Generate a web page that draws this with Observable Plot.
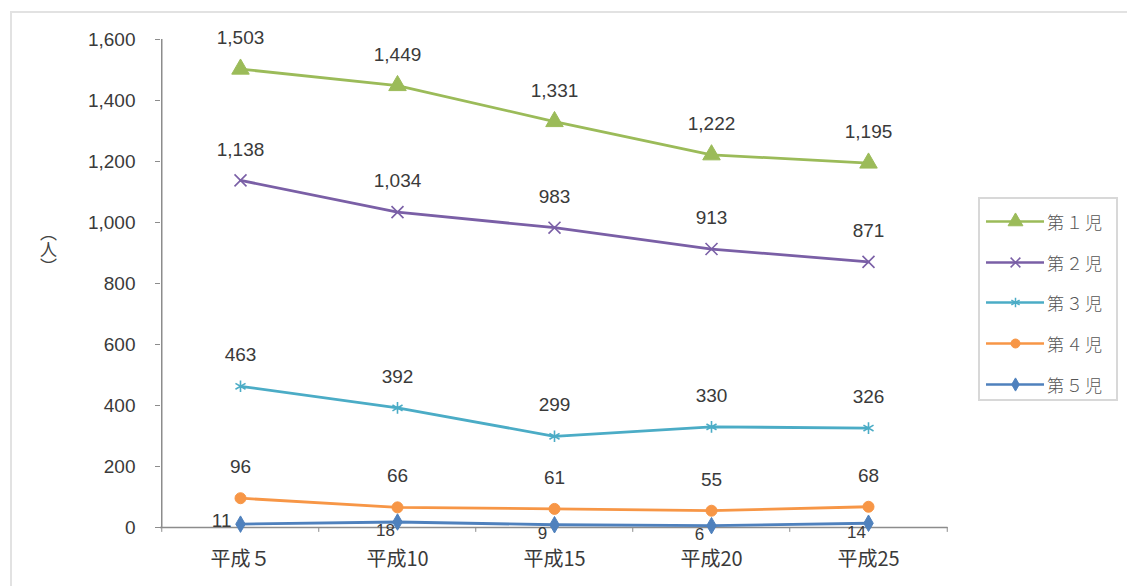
<!DOCTYPE html>
<html>
<head>
<meta charset="utf-8">
<script src="https://cdn.jsdelivr.net/npm/d3@7"></script>
<script src="https://cdn.jsdelivr.net/npm/@observablehq/plot@0.6"></script>
<style>
  html, body { margin: 0; padding: 0; background: #fff; }
  #wrap { position: relative; width: 1127px; height: 586px; overflow: hidden; font-family: "Liberation Sans", Arial, sans-serif; }
  #frame { position: absolute; left: 10px; top: 11px; width: 1140px; height: 600px; border-left: 2px solid #e2e2e2; border-top: 2px solid #e2e2e2; box-sizing: border-box; }
  #ylabel { position: absolute; left: 36px; top: 224px; writing-mode: vertical-rl; font-family: "Noto Sans CJK JP", sans-serif; font-size: 17px; color: #444; }
  #legend { position: absolute; left: 978px; top: 197px; width: 140px; height: 204px; border: 2px solid #d8d8d8; box-sizing: border-box; background: #fff; }
  .row { position: absolute; left: 6px; height: 22px; display: flex; align-items: center; }
  .row span { font-family: "Noto Sans CJK JP", serif; font-weight: 300; font-size: 17px; letter-spacing: 2px; color: #555; margin-left: 3px; }
  #chart { position: absolute; left: 0; top: 0; }
</style>
</head>
<body>
<div id="wrap">
  <div id="frame"></div>
  <div id="chart"></div>
  <div id="ylabel">（人）</div>
  <div id="legend"></div>
</div>
<script>
const categories = ["平成５", "平成10", "平成15", "平成20", "平成25"];
const seriesNames = ["第１児", "第２児", "第３児", "第４児", "第５児"];
const child1 = [1503, 1449, 1331, 1222, 1195];
const child2 = [1138, 1034, 983, 913, 871];
const child3 = [463, 392, 299, 330, 326];
const child4 = [96, 66, 61, 55, 68];
const child5 = [11, 18, 9, 6, 14];
const yTicks = [0, 200, 400, 600, 800, 1000, 1200, 1400, 1600];

const colors = ["#9BBB59", "#7A5FA6", "#4BACC6", "#F79646", "#4F81BD"];
const symbols = ["triangle", "times", "asterisk", "circle", "diamond"];
const filled = [true, false, false, true, true];
const radius = [6.5, 5.5, 5.5, 5.5, 5];

const allSeries = [child1, child2, child3, child4, child5];
const rows = [];
allSeries.forEach((vals, s) => vals.forEach((v, i) => rows.push({series: seriesNames[s], s, cat: categories[i], i, value: v})));

const fmt = d3.format(",");
const labelFont = 19;
const marks = [];

// axes lines
marks.push(Plot.ruleY([0], {stroke: "#8c8c8c", strokeWidth: 1.5}));
marks.push(Plot.ruleX([0], {x: () => categories[0], y1: 0, y2: 1600, dx: -78.75, stroke: "#8c8c8c", strokeWidth: 1.5}));
// category boundary ticks
marks.push(Plot.ruleX(categories, {x: d => d, y1: 0, y2: -16, dx: -78.75, stroke: "#8c8c8c", strokeWidth: 1}));
marks.push(Plot.ruleX([categories[categories.length - 1]], {x: d => d, y1: 0, y2: -16, dx: 78.75, stroke: "#8c8c8c", strokeWidth: 1}));

seriesNames.forEach((name, s) => {
  const data = rows.filter(r => r.s === s);
  marks.push(Plot.line(data, {x: "cat", y: "value", stroke: colors[s], strokeWidth: 2.8}));
  marks.push(Plot.dot(data, {
    x: "cat", y: "value", symbol: symbols[s], r: radius[s],
    fill: filled[s] ? colors[s] : "none",
    stroke: colors[s], strokeWidth: filled[s] ? 1 : 1.6
  }));
  if (s < 4) {
    marks.push(Plot.text(data, {x: "cat", y: "value", text: d => fmt(d.value), dy: -31, fontSize: labelFont, fill: "#3a3a3a"}));
  }
});
const d5 = rows.filter(r => r.s === 4);
marks.push(Plot.text(d5.filter(d => d.i === 0), {x: "cat", y: "value", text: d => fmt(d.value), textAnchor: "end", dx: -9, dy: -3, fontSize: labelFont, fill: "#3a3a3a"}));
marks.push(Plot.text(d5.filter(d => d.i > 0), {x: "cat", y: "value", text: d => fmt(d.value), dx: -12, dy: 9, fontSize: 17, fill: "#3a3a3a"}));

marks.push(Plot.axisY({ticks: yTicks, tickFormat: fmt, tickSize: 5, tickPadding: 20, fontSize: labelFont, label: null, stroke: "#8c8c8c", fill: "#3a3a3a"}));
marks.push(Plot.axisX({tickSize: 0, tickPadding: 24, fontSize: 20, label: null, fill: "#3a3a3a", fontFamily: "Noto Sans CJK JP, sans-serif"}));

const chart = Plot.plot({
  width: 1127,
  height: 586,
  marginTop: 39,
  marginBottom: 59,
  marginLeft: 160,
  marginRight: 179.5,
  style: {background: "transparent", fontFamily: "Liberation Sans, Arial, sans-serif"},
  x: {type: "point", domain: categories, padding: 0.5},
  y: {domain: [0, 1600]},
  marks
});
document.getElementById("chart").appendChild(chart);

// legend
const legend = document.getElementById("legend");
const rowTops = [14, 55, 95, 136, 177];
seriesNames.forEach((name, s) => {
  const row = document.createElement("div");
  row.className = "row";
  row.style.top = (rowTops[s] - 3) + "px";
  const sw = Plot.plot({
    width: 58, height: 20, margin: 0,
    x: {domain: [0, 1], axis: null}, y: {domain: [0, 1], axis: null},
    style: {background: "transparent"},
    marks: [
      Plot.ruleY([0.5], {stroke: colors[s], strokeWidth: 2.6}),
      Plot.dot([{x: 0.5, y: 0.5}], {x: "x", y: "y", symbol: symbols[s], r: radius[s] - 1,
        fill: filled[s] ? colors[s] : "none", stroke: colors[s], strokeWidth: filled[s] ? 1 : 1.5})
    ]
  });
  row.appendChild(sw);
  const t = document.createElement("span");
  t.textContent = name;
  row.appendChild(t);
  legend.appendChild(row);
});
</script>
</body>
</html>
